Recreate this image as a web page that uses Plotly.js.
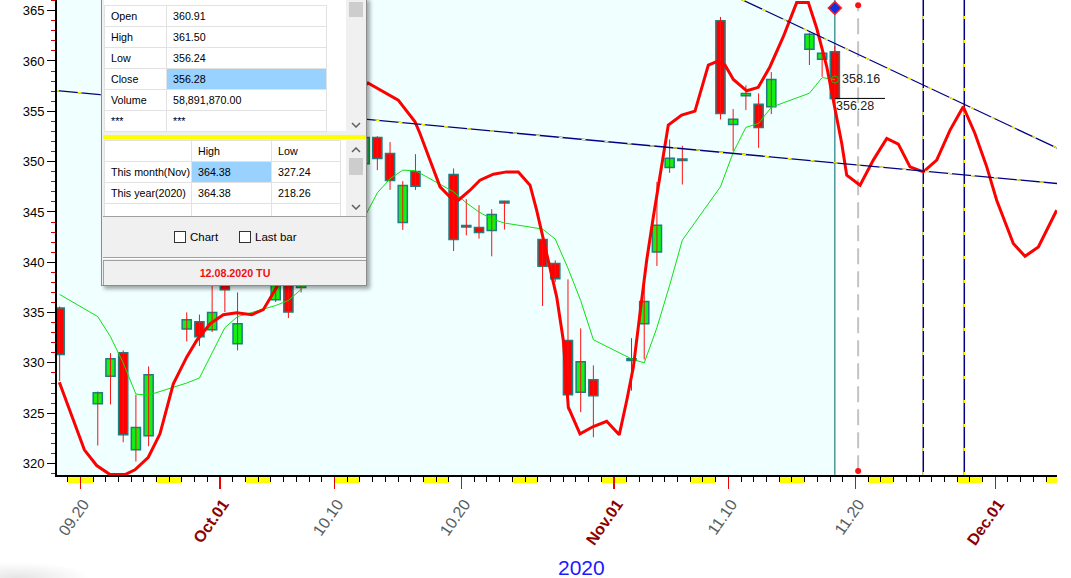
<!DOCTYPE html>
<html>
<head>
<meta charset="utf-8">
<script src="https://cdn.plot.ly/plotly-3.0.1.min.js"></script>
<style>
  body { margin:0; background:#fff; overflow:hidden; width:1071px; height:578px; position:relative; }
  #chart { position:absolute; left:0; top:0; width:1071px; height:578px; }
  #panel { position:absolute; left:101px; top:-3px; width:266px; height:289px; box-sizing:border-box;
           background:#f0f0f0; border:1px solid #8c8c8c; box-shadow:3px 3px 4px rgba(0,0,0,0.35);
           font-family:"Liberation Sans", Arial, sans-serif; font-size:10.7px; color:#000; overflow:hidden; }
  #panel .abs { position:absolute; }
  .white { background:#fff; }
  table.grid { border-collapse:collapse; table-layout:fixed; position:absolute; }
  table.grid td { border:1px solid #e2e2e2; padding:0 0 0 6px; height:20px; line-height:20px; white-space:nowrap; overflow:hidden; }
  td.hl { background:#99d1ff; }
  .sb { background:#f0f0f0; }
  .thumb { background:#cdcdcd; }
  .cb { width:12px; height:12px; box-sizing:border-box; border:1px solid #333; background:#fff; }
  #shadowblob { position:absolute; left:0; top:562px; width:90px; height:16px;
                background:radial-gradient(ellipse at 20% 100%, rgba(0,0,0,0.10), rgba(0,0,0,0) 70%); }
</style>
</head>
<body>
<div id="chart"></div>

<div id="panel">
  <div class="abs white" style="left:2px; top:0px; width:242px; height:133px;"></div>
  <table class="grid" style="left:2px; top:7px; width:222px;">
    <colgroup><col style="width:62px"><col style="width:160px"></colgroup>
    <tr><td>Open</td><td>360.91</td></tr>
    <tr><td>High</td><td>361.50</td></tr>
    <tr><td>Low</td><td>356.24</td></tr>
    <tr><td>Close</td><td class="hl">356.28</td></tr>
    <tr><td>Volume</td><td>58,891,870.00</td></tr>
    <tr><td>***</td><td>***</td></tr>
  </table>
  <div class="abs sb" style="left:244px; top:0px; width:20px; height:134px;"></div>
  <div class="abs thumb" style="left:247px; top:4px; width:14px; height:15px;"></div>
  <svg class="abs" style="left:249px; top:124px;" width="10" height="6"><polyline points="1,1 5,5 9,1" fill="none" stroke="#606060" stroke-width="1.5"/></svg>

  <div class="abs" style="left:1px; top:137px; width:264px; height:4px; background:#ffff00;"></div>

  <div class="abs white" style="left:2px; top:142px; width:242px; height:76px; overflow:hidden;">
    <table class="grid" style="left:0px; top:0px; width:236px;">
      <colgroup><col style="width:87px"><col style="width:80px"><col style="width:69px"></colgroup>
      <tr><td></td><td>High</td><td>Low</td></tr>
      <tr><td>This month(Nov)</td><td class="hl">364.38</td><td>327.24</td></tr>
      <tr><td>This year(2020)</td><td>364.38</td><td>218.26</td></tr>
      <tr><td></td><td></td><td></td></tr>
    </table>
  </div>
  <div class="abs sb" style="left:244px; top:142px; width:20px; height:76px;"></div>
  <svg class="abs" style="left:249px; top:149px;" width="10" height="6"><polyline points="1,5 5,1 9,5" fill="none" stroke="#606060" stroke-width="1.5"/></svg>
  <div class="abs thumb" style="left:247px; top:160px; width:14px; height:17px;"></div>
  <svg class="abs" style="left:249px; top:206px;" width="10" height="6"><polyline points="1,1 5,5 9,1" fill="none" stroke="#606060" stroke-width="1.5"/></svg>

  <div class="abs" style="left:1px; top:218px; width:264px; height:1px; background:#a0a0a0;"></div>
  <div class="abs cb" style="left:72px; top:233px;"></div>
  <div class="abs" style="left:88px; top:232px; font-size:11.5px; line-height:14px;">Chart</div>
  <div class="abs cb" style="left:137px; top:233px;"></div>
  <div class="abs" style="left:153px; top:232px; font-size:11.5px; line-height:14px;">Last bar</div>

  <div class="abs" style="left:1px; top:259px; width:264px; height:1px; background:#a0a0a0;"></div>
  <div class="abs" style="left:1px; top:260px; width:264px; height:1px; background:#ffffff;"></div>
  <div class="abs" style="left:1px; top:262px; width:262px; height:24px; border:1px solid #a0a0a0; text-align:center; line-height:24px; font-weight:bold; color:#ee1111;">12.08.2020 TU</div>
</div>
<div id="shadowblob"></div>

<script>
// ---------------- DATA ----------------
const tradeDates = [
  '2020-09-18','2020-09-21','2020-09-22','2020-09-23','2020-09-24','2020-09-25',
  '2020-09-28','2020-09-29','2020-09-30','2020-10-01','2020-10-02',
  '2020-10-05','2020-10-06','2020-10-07','2020-10-08','2020-10-09',
  '2020-10-12','2020-10-13','2020-10-14','2020-10-15','2020-10-16',
  '2020-10-19','2020-10-20','2020-10-21','2020-10-22','2020-10-23',
  '2020-10-26','2020-10-27','2020-10-28','2020-10-29','2020-10-30',
  '2020-11-02','2020-11-03','2020-11-04','2020-11-05','2020-11-06',
  '2020-11-09','2020-11-10','2020-11-11','2020-11-12','2020-11-13',
  '2020-11-16','2020-11-17','2020-11-18'
];
const openVals = [
  335.45,325.93,328.68,331.01,321.36,322.75,
  333.36,334.10,333.30,339.00,331.90,
  336.28,338.60,337.50,341.00,345.00,
  349.80,352.40,350.81,343.95,349.02,
  348.72,343.65,343.45,343.15,346.05,
  342.25,339.87,332.23,327.09,328.32,
  330.40,333.90,341.02,349.42,350.25,
  364.00,353.70,356.54,355.69,355.45,
  361.16,360.16,360.91
];
const highVals = [
  335.60,327.16,330.97,331.24,326.83,329.65,
  335.02,334.80,338.00,339.80,337.00,
  338.50,339.20,341.00,344.50,348.00,
  357.80,352.53,351.94,348.06,350.74,
  349.32,346.27,345.67,345.27,346.10,
  343.01,340.19,338.30,333.43,329.75,
  332.46,338.30,347.99,352.20,351.57,
  364.38,355.22,357.58,356.78,358.90,
  362.81,361.00,361.50
];
const lowVals = [
  328.20,321.79,325.87,322.11,320.20,321.72,
  332.13,331.67,333.06,335.05,331.24,
  336.05,334.45,337.00,340.50,344.20,
  349.30,349.15,347.19,343.21,347.19,
  341.12,342.68,342.35,340.59,343.25,
  335.65,338.03,325.34,325.10,322.61,
  327.24,330.34,339.63,348.88,347.73,
  354.19,351.04,355.12,351.37,354.72,
  359.60,358.43,356.24
];
const closeVals = [
  330.84,327.03,330.41,322.85,323.58,328.82,
  334.29,332.60,335.00,337.28,333.90,
  338.00,335.05,340.60,344.00,347.50,
  352.40,350.31,348.12,347.63,347.56,
  342.25,343.50,342.95,344.74,345.90,
  339.60,338.37,326.83,330.12,326.73,
  330.25,336.11,343.68,350.34,350.10,
  354.79,354.22,356.78,353.40,358.17,
  362.65,360.76,356.28
];
const maVals = [
  336.8,334.6,332.6,330.0,326.9,326.8,
  328.0,328.5,331.0,333.5,334.6,
  335.7,336.2,337.3,339.5,341.8,
  344.5,346.9,348.3,349.15,349.1,
  347.0,345.9,345.0,344.3,343.9,
  343.3,342.3,339.4,336.2,332.3,
  330.4,330.0,333.5,337.7,342.2,
  347.5,350.9,353.4,353.8,355.4,
  356.8,358.35,358.16
];
// smooth projection line: days after 2020-09-20 and values
const redBaseDate = '2020-09-20';
const redDays = [
  -1.65,-0.55,0.32,1.29,2.34,3.52,4.30,5.35,6.27,7.32,
  8.37,9.16,10.21,11.25,12.31,13.49,14.40,15.46,17.29,19.26,
  20.83,22.64,23.82,25.02,26.34,26.73,27.52,28.31,29.09,29.75,
  30.67,31.45,32.50,33.55,34.47,35.39,35.91,36.70,37.49,38.01,
  38.40,39.32,40.37,41.42,42.41,43.00,43.52,44.04,44.57,45.09,
  45.62,46.27,47.32,48.37,49.42,50.08,50.73,51.39,52.44,53.35,
  54.27,55.32,56.37,57.29,57.95,58.74,59.25,59.92,60.31,61.36,
  62.40,63.46,64.37,65.29,66.34,67.39,68.44,69.48,70.40,71.33,
  72.11,73.42,74.34,75.39,76.83
];
const redVals = [
  328.08,324.27,321.36,319.80,318.90,318.90,319.37,320.62,322.95,327.92,
  330.57,332.23,333.89,334.79,334.99,334.79,335.29,337.54,344.18,352.13,
  356.12,357.81,357.01,356.11,353.95,352.80,350.14,347.49,346.49,346.16,
  347.16,348.15,348.75,348.98,348.98,347.66,345.17,340.86,336.54,332.23,
  325.60,322.95,323.68,324.20,322.85,326.26,329.58,334.89,340.20,344.50,
  348.82,353.63,354.62,355.02,359.60,359.93,359.60,358.17,357.04,357.38,
  359.43,362.41,365.80,365.80,363.25,359.43,356.12,351.81,348.65,347.66,
  350.15,352.30,351.74,349.48,348.98,350.15,353.13,355.45,352.80,349.48,
  346.16,341.86,340.59,341.52,345.17
];
const trendADates = ['2020-09-18 00:00','2020-12-06 00:00'];
const trendAVals  = [357.08, 347.81];
const trendBDates = ['2020-11-11 00:00','2020-12-06 00:00'];
const trendBVals  = [366.13, 351.27];
const cursorDate = '2020-11-20 05:00';
const markerLineDates = ['2020-11-25 08:00','2020-11-28 13:30'];
const weekendStarts = ['2020-09-19','2020-09-26','2020-10-03','2020-10-10','2020-10-17','2020-10-24',
                       '2020-10-31','2020-11-07','2020-11-14','2020-11-21','2020-11-28','2020-12-05'];
const tickDates  = ['2020-09-20','2020-10-01','2020-10-10','2020-10-20','2020-11-01','2020-11-10','2020-11-20','2020-12-01'];
const tickLabels = ['09.20','Oct.01','10.10','10.20','Nov.01','11.10','11.20','Dec.01'];
const yearLabel = '2020';

// ---------------- BUILD ----------------
const DAY = 86400000;
const candleX = tradeDates.map(d => d + ' 09:00');
const lastX = candleX[candleX.length - 1];
const lastClose = closeVals[closeVals.length - 1];
const lastMA = maVals[maVals.length - 1];

const wickX = [], wickY = [];
candleX.forEach((x, i) => { wickX.push(x, x, null); wickY.push(lowVals[i], highVals[i], null); });

const bodyBase = openVals.map((o, i) => Math.min(o, closeVals[i]));
const bodyLen  = openVals.map((o, i) => Math.max(Math.abs(closeVals[i] - o), 0.14));
const bodyColor = openVals.map((o, i) => closeVals[i] >= o ? '#12f012' : '#ff0000');

const redBase = Date.parse(redBaseDate + 'T00:00:00Z');
const redX = redDays.map(d => redBase + d * DAY);

const toMs = s => Date.parse(s.replace(' ', 'T') + (s.length > 10 ? ':00Z' : 'T00:00:00Z'));
const lastMs = toMs(lastX);
const msToStr = ms => new Date(ms).toISOString().slice(0,19).replace('T',' ');

const numFont = 'Liberation Sans, Arial, sans-serif';

const traces = [
  { type:'scatter', mode:'lines', x:wickX, y:wickY, line:{color:'#ff1010', width:1}, hoverinfo:'skip' },
  { type:'bar', x:candleX, y:bodyLen, base:bodyBase, width:0.72 * DAY,
    marker:{color:bodyColor, line:{color:'#1f7f80', width:1.5}}, hoverinfo:'skip' },
  { type:'scatter', mode:'lines', x:candleX, y:maVals, line:{color:'#10e010', width:1}, hoverinfo:'skip' },
  { type:'scatter', mode:'lines', x:redX, y:redVals, line:{color:'#ff0000', width:3}, hoverinfo:'skip' },
  { type:'scatter', mode:'lines', x:trendADates, y:trendAVals, line:{color:'#000080', width:1.3}, hoverinfo:'skip' },
  { type:'scatter', mode:'lines', x:trendADates, y:trendAVals, line:{color:'#ffff00', width:1.3, dash:'4px,19px'}, hoverinfo:'skip' },
  { type:'scatter', mode:'lines', x:trendBDates, y:trendBVals, line:{color:'#000080', width:1.3}, hoverinfo:'skip' },
  { type:'scatter', mode:'lines', x:trendBDates, y:trendBVals, line:{color:'#ffff00', width:1.3, dash:'4px,19px'}, hoverinfo:'skip' },
  { type:'scatter', mode:'markers', x:[lastX], y:[lastMA], marker:{symbol:'circle-open', size:7, color:'#10c010', line:{width:1}}, hoverinfo:'skip' },
  { type:'scatter', mode:'markers', x:[cursorDate, cursorDate], y:[365.55, 319.25], marker:{symbol:'circle', size:6, color:'#ff1010'}, cliponaxis:false, hoverinfo:'skip' },
  { type:'scatter', mode:'markers', x:[lastX], y:[365.27], marker:{symbol:'diamond', size:10, color:'#1030e0', line:{color:'#ff2020', width:1.5}}, cliponaxis:false, hoverinfo:'skip' }
];

const shapes = [];
shapes.push({ type:'rect', xref:'x', yref:'paper', x0:'2020-09-17', x1:lastX, y0:0, y1:1,
              fillcolor:'#f0ffff', line:{width:0}, layer:'below' });
weekendStarts.forEach(d => {
  shapes.push({ type:'rect', xref:'x', yref:'paper', x0:d, x1:msToStr(toMs(d) + 2 * DAY),
                y0:-0.0168, y1:-0.001, fillcolor:'#ffff00', line:{width:0}, layer:'below' });
});
shapes.push({ type:'line', xref:'x', yref:'paper', x0:lastX, x1:lastX, y0:0, y1:1, line:{color:'#1f7f80', width:1.2}, layer:'below' });
shapes.push({ type:'line', xref:'x', yref:'paper', x0:cursorDate, x1:cursorDate, y0:0.008, y1:0.988, line:{color:'#c4c4c4', width:2, dash:'16px,7px'}, layer:'below' });
markerLineDates.forEach(d => {
  shapes.push({ type:'line', xref:'x', yref:'paper', x0:d, x1:d, y0:0, y1:1, line:{color:'#000080', width:1.5}, layer:'below' });
  shapes.push({ type:'line', xref:'x', yref:'paper', x0:d, x1:d, y0:0, y1:1, line:{color:'#ffff00', width:1.5, dash:'3px,21px'}, layer:'below' });
});
shapes.push({ type:'line', xref:'x', yref:'y', x0:lastX, x1:msToStr(lastMs + 3.95 * DAY),
              y0:lastClose, y1:lastClose, line:{color:'#000', width:1} });

const tickText = tickLabels.map(t => /[A-Za-z]/.test(t)
  ? '<b><span style="color:#8b0000">' + t + '</span></b>' : t);

const layout = {
  width:1071, height:578,
  margin:{l:57, r:14, t:0, b:103},
  paper_bgcolor:'#ffffff', plot_bgcolor:'#ffffff',
  showlegend:false, barmode:'overlay', dragmode:false,
  xaxis:{
    type:'date', range:['2020-09-18 04:00','2020-12-05 20:34'],
    showgrid:false, zeroline:false, showline:true, linecolor:'#000', linewidth:1.5,
    tickmode:'array', tickvals:tickDates, ticktext:tickText, tickangle:-55, ticklabelshift:3,
    tickfont:{family:numFont, size:16, color:'#555c60'},
    ticks:'outside', ticklen:12, tickcolor:'#ee0000', tickwidth:1.5,
    minor:{tickmode:'linear', tick0:'2020-09-18', dtick:DAY, ticks:'outside', ticklen:5, tickcolor:'#000', tickwidth:1, showgrid:false},
    fixedrange:true
  },
  yaxis:{
    range:[318.86, 366.06], tickmode:'linear', tick0:320, dtick:5,
    showgrid:false, zeroline:false, showline:true, linecolor:'#000', linewidth:2,
    ticks:'outside', ticklen:8, tickcolor:'#000', tickwidth:1,
    tickfont:{family:numFont, size:13, color:'#000'},
    minor:{tickmode:'linear', tick0:320, dtick:1, ticks:'outside', ticklen:4, tickcolor:'#dd0000', tickwidth:1, showgrid:false},
    fixedrange:true
  },
  shapes:shapes,
  annotations:[
    { xref:'paper', yref:'paper', x:0.524, y:-0.1947, xanchor:'center', yanchor:'middle', showarrow:false,
      text:yearLabel, font:{family:numFont, size:21, color:'#1a1aff'} },
    { xref:'x', yref:'y', x:lastX, y:lastMA, xanchor:'left', yanchor:'middle', xshift:5, yshift:1, showarrow:false,
      text:lastMA.toFixed(2), font:{family:numFont, size:12.5, color:'#222'} },
    { xref:'x', yref:'y', x:lastX, y:lastClose, xanchor:'left', yanchor:'top', xshift:-1, yshift:1, showarrow:false,
      text:lastClose.toFixed(2), font:{family:numFont, size:12.5, color:'#222'} }
  ]
};

Plotly.newPlot('chart', traces, layout, {staticPlot:true, displayModeBar:false});
</script>
</body>
</html>
